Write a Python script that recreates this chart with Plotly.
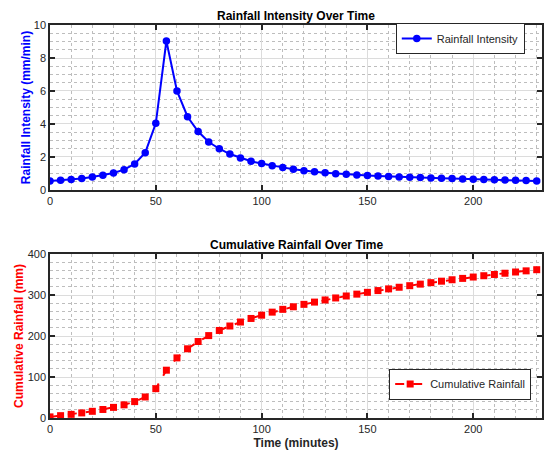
import plotly.graph_objects as go

time_min = list(range(0, 235, 5))
intensity = [0.55, 0.59, 0.63, 0.69, 0.79, 0.89, 1.03, 1.23, 1.58, 2.26,
             4.04, 9.03, 6.00, 4.44, 3.54, 2.91, 2.50, 2.18, 1.94, 1.74,
             1.60, 1.47, 1.37, 1.26, 1.17, 1.10, 1.04, 0.99, 0.95, 0.91,
             0.88, 0.85, 0.82, 0.79, 0.77, 0.75, 0.73, 0.71, 0.69, 0.67,
             0.65, 0.63, 0.62, 0.60, 0.59, 0.57, 0.55]
cumulative = [2.7, 5.7, 8.9, 12.4, 16.3, 20.8, 25.9, 32.1, 40.0, 51.3,
              71.5, 116.6, 146.6, 168.8, 186.5, 201.0, 213.5, 224.4, 234.1, 242.8,
              250.8, 258.2, 265.0, 271.3, 277.2, 282.7, 287.9, 292.8, 297.6, 302.1,
              306.5, 310.8, 314.9, 318.9, 322.7, 326.5, 330.1, 333.7, 337.2, 340.5,
              343.8, 347.0, 350.1, 353.1, 356.1, 358.9, 361.7]

FONT = "Arial, Liberation Sans, Helvetica, sans-serif"

fig = go.Figure()
fig.add_trace(go.Scatter(
    x=time_min, y=intensity, mode="lines+markers", name="Rainfall Intensity",
    line=dict(color="#0000ff", width=2),
    marker=dict(symbol="circle", size=7.5, color="#0000ff"),
    xaxis="x", yaxis="y", legend="legend"))
fig.add_trace(go.Scatter(
    x=time_min, y=cumulative, mode="lines+markers", name="Cumulative Rainfall",
    line=dict(color="#ff0000", width=2, dash="dash"),
    marker=dict(symbol="square", size=7, color="#ff0000"),
    xaxis="x2", yaxis="y2", legend="legend2"))

def axis_common():
    return dict(
        showline=True, linecolor="#262626", linewidth=1.5, mirror="ticks",
        ticks="inside", ticklen=5, tickcolor="#262626", tickwidth=1.5,
        showgrid=True, gridcolor="#dcdcdc", gridwidth=1,
        zeroline=False, automargin=False,
        tickfont=dict(family=FONT, size=11, color="#262626"),
    )

MINOR = dict(showgrid=True, griddash="dot", gridcolor="#bdbdbd", gridwidth=1, ticks="")

xa = axis_common()
xa.update(range=[0, 232.5], dtick=50, tick0=0, minor=dict(dtick=10, **MINOR))
ya = axis_common()
ya.update(range=[0, 10], dtick=2, tick0=0, minor=dict(dtick=0.5, **MINOR))
xa2 = axis_common()
xa2.update(range=[0, 232.5], dtick=50, tick0=0, minor=dict(dtick=10, **MINOR))
ya2 = axis_common()
ya2.update(range=[0, 400], dtick=100, tick0=0, minor=dict(dtick=20, **MINOR))

top_dom = [0.5802, 1.0]
bot_dom = [0.0, 0.4173]

plot_h = 450 - 25 - 32
def py(pix):
    return (450 - 32 - pix) / plot_h

fig.update_layout(
    width=544, height=450,
    margin=dict(l=50, r=2, t=25, b=32),
    paper_bgcolor="white", plot_bgcolor="white",
    font=dict(family=FONT, size=11, color="#262626"),
    xaxis=dict(**xa, domain=[0, 1], anchor="y"),
    yaxis=dict(**ya, domain=top_dom, anchor="x",
               title=dict(text="<b>Rainfall Intensity (mm/min)</b>",
                          font=dict(family=FONT, size=12, color="#0000ff"), standoff=1)),
    xaxis2=dict(**xa2, domain=[0, 1], anchor="y2",
                title=dict(text="<b>Time (minutes)</b>",
                           font=dict(family=FONT, size=12, color="#262626"), standoff=5)),
    yaxis2=dict(**ya2, domain=bot_dom, anchor="x2",
                title=dict(text="<b>Cumulative Rainfall (mm)</b>",
                           font=dict(family=FONT, size=12, color="#ff0000"), standoff=1)),
    legend=dict(x=0.965, y=py(38.5), xanchor="right", yanchor="middle",
                bgcolor="white", bordercolor="#262626", borderwidth=1,
                font=dict(family=FONT, size=11, color="#262626"),
                tracegroupgap=0, itemwidth=30),
    legend2=dict(x=0.978, y=py(384), xanchor="right", yanchor="middle",
                 bgcolor="white", bordercolor="#262626", borderwidth=1,
                 font=dict(family=FONT, size=11, color="#262626"),
                 tracegroupgap=0, itemwidth=30),
    showlegend=True,
)

fig.add_annotation(text="<b>Rainfall Intensity Over Time</b>", x=0.5, xref="paper",
                   y=py(16), yref="paper", showarrow=False, yanchor="middle",
                   font=dict(family=FONT, size=12, color="black"))
fig.add_annotation(text="<b>Cumulative Rainfall Over Time</b>", x=0.5, xref="paper",
                   y=py(245), yref="paper", showarrow=False, yanchor="middle",
                   font=dict(family=FONT, size=12, color="black"))

fig.write_html("out.html", config={"displayModeBar": False},
               post_script="document.body.style.margin='0px';document.body.style.padding='0px';document.body.style.overflow='hidden';")
